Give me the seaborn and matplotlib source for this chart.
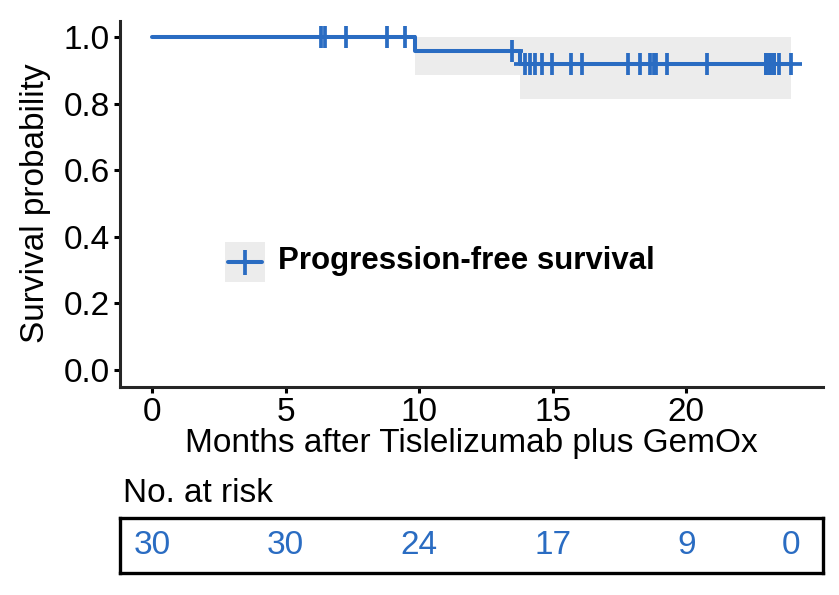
"""Kaplan-Meier curve of progression-free survival with a number-at-risk table."""

import matplotlib
matplotlib.use("Agg")
import matplotlib.pyplot as plt
import numpy as np
import seaborn as sns

# months to progression (events) and to last follow-up (censored)
event_times = [9.84, 13.77]
censor_times = [6.34, 6.47, 7.25, 8.80, 9.47, 13.46,
                13.97, 14.15, 14.33, 14.60, 14.98,
                15.68, 16.10, 17.83, 18.26, 18.64, 18.78, 18.87, 19.28,
                20.76, 22.98, 22.98, 23.13, 23.13, 23.28, 23.28, 23.48, 23.92]

risk_times = [0, 5, 10, 15, 20, 23.92]
risk_counts = [30, 30, 24, 17, 9, 0]
x_ticks = [0, 5, 10, 15, 20]
y_ticks = [0.0, 0.2, 0.4, 0.6, 0.8, 1.0]

BLUE = "#2a6cc2"
BAND = "#ececec"

sns.set_theme(style="ticks")
plt.rcParams["font.family"] = ["Liberation Sans", "DejaVu Sans"]
plt.rcParams["axes.linewidth"] = 2.2
plt.rcParams["text.color"] = "black"
plt.rcParams["axes.labelcolor"] = "black"


def kaplan_meier(events, censored):
    times = np.array(events + censored)
    status = np.array([1] * len(events) + [0] * len(censored))
    s, var = 1.0, 0.0
    xs, ys, lo, hi = [0.0], [1.0], [1.0], [1.0]
    for t in sorted(set(events)):
        n = (times >= t).sum()
        d = ((times == t) & (status == 1)).sum()
        s *= 1 - d / n
        var += d / (n * (n - d))
        se = np.sqrt(var)
        xs.append(t)
        ys.append(s)
        lo.append(s * np.exp(-1.96 * se))
        hi.append(min(1.0, s * np.exp(1.96 * se)))
    xs.append(max(times))
    ys.append(ys[-1])
    lo.append(lo[-1])
    hi.append(hi[-1])
    return np.array(xs), np.array(ys), np.array(lo), np.array(hi)


km_x, km_y, km_lo, km_hi = kaplan_meier(event_times, censor_times)
cens_y = [km_y[np.searchsorted(km_x[:-1], t, side="right") - 1] for t in censor_times]

fig = plt.figure(figsize=(8.39, 5.95), dpi=100)
ax = fig.add_axes([120 / 839, 1 - 386.6 / 595, 703 / 839, 366 / 595])

ax.fill_between(km_x, km_lo, km_hi, step="post", color=BAND, lw=0)
sns.lineplot(x=km_x, y=km_y, drawstyle="steps-post", estimator=None,
             color=BLUE, lw=2.9, ax=ax)
ax.plot(censor_times, cens_y, ls="none", marker="+", ms=16, mew=2.7, color=BLUE)

ax.set_xlim(-1.196, 25.116)
ax.set_ylim(-0.05, 1.05)
ax.set_xticks(x_ticks)
ax.set_yticks(y_ticks)
ax.set_yticklabels([f"{v:.1f}" for v in y_ticks])
ax.tick_params(labelsize=24, length=4.5, width=2.2, pad=3, colors="black")
ax.set_xlabel("Months after Tislelizumab plus GemOx", fontsize=24, labelpad=0)
ax.set_ylabel("Survival probability", fontsize=24, labelpad=9)
sns.despine(ax=ax)

# legend key in ggplot style: grey square behind the symbol
key = fig.add_axes([225 / 839, 1 - 282 / 595, 40 / 839, 40 / 595])
key.set_facecolor(BAND)
key.set_xlim(0, 1)
key.set_ylim(0, 1)
key.plot([0.08, 0.92], [0.5, 0.5], color=BLUE, lw=2.9)
key.plot([0.5], [0.5], marker="+", ms=18, mew=2.7, color=BLUE)
key.set_xticks([])
key.set_yticks([])
for sp in key.spines.values():
    sp.set_visible(False)
fig.text(278 / 839, 1 - 261 / 595, "Progression-free survival",
         fontsize=22.5, fontweight="bold", va="center", ha="left")

# number-at-risk table
fig.text(123 / 839, 1 - 494 / 595, "No. at risk", fontsize=24, va="center", ha="left")
tab = fig.add_axes([120 / 839, 1 - 573 / 595, 703 / 839, 55 / 595])
tab.set_xlim(ax.get_xlim())
tab.set_ylim(0, 1)
for t, n in zip(risk_times, risk_counts):
    tab.text(t, 0.5, str(n), color=BLUE, fontsize=24, ha="center", va="center")
tab.set_xticks([])
tab.set_yticks([])
for sp in tab.spines.values():
    sp.set_linewidth(2.4)
    sp.set_color("black")

fig.savefig("out.png", dpi=100)
plt.close(fig)
